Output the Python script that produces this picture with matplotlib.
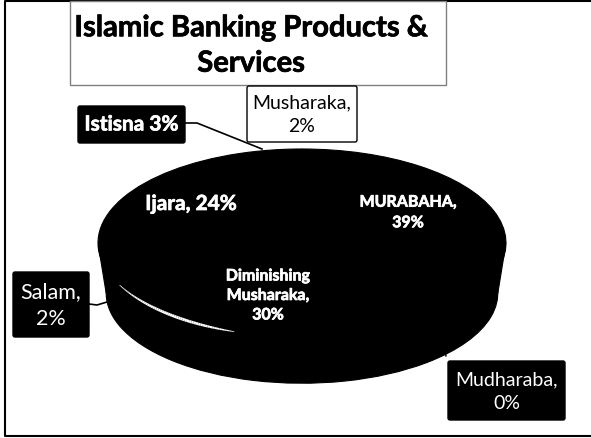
import numpy as np
import matplotlib
matplotlib.use('Agg')
import matplotlib.pyplot as plt
import matplotlib.patheffects as pe
from matplotlib.collections import LineCollection
from matplotlib.patches import FancyBboxPatch, Polygon, Rectangle

plt.rcParams['font.family'] = ['Lato', 'DejaVu Sans']

products = ['MURABAHA', 'Mudharaba', 'Diminishing Musharaka', 'Salam', 'Ijara', 'Istisna', 'Musharaka']
shares = [39, 0, 30, 2, 24, 3, 2]

W, H = 591, 439
PIE_LEFT, PIE_RIGHT = 98, 506
PIE_TOP, FACE_RY = 150, 94
SIDE_DROP = 50
SIDE_RADIUS = 0.96


def heavy(width=0.5, color='w'):
    return [pe.withStroke(linewidth=width, foreground=color)]


def add_box(ax, x0, y0, x1, y1, text, color='k', text_color='w', size=15, weight='normal', spacing=1.2, effects=None):
    box = FancyBboxPatch((x0 + 2, y0 + 2), x1 - x0 - 4, y1 - y0 - 4, boxstyle='round,pad=2,rounding_size=2',
                         fc=color, ec='k', lw=1.0, zorder=5)
    ax.add_patch(box)
    ax.text((x0 + x1) / 2, (y0 + y1) / 2, text, color=text_color, fontsize=size, fontweight=weight,
            ha='center', va='center', linespacing=spacing, zorder=6, path_effects=effects)


def draw_pie(fig):
    rx = (PIE_RIGHT - PIE_LEFT) / 2
    d = SIDE_DROP / FACE_RY
    bottom = PIE_TOP + FACE_RY + SIDE_DROP + SIDE_RADIUS * FACE_RY + 2
    ax = fig.add_axes([PIE_LEFT / W, 1 - bottom / H, 2 * rx / W, (bottom - PIE_TOP + 2) / H])
    colors = ['k'] * len(shares)
    wedge_style = {'edgecolor': 'k', 'linewidth': 0.8}
    # extruded side first, then the top face
    ax.pie(shares, startangle=90, counterclock=False, colors=colors, center=(0, -d), radius=SIDE_RADIUS,
           wedgeprops=wedge_style)
    ax.add_patch(Polygon([(-1, 0), (1, 0), (SIDE_RADIUS, -d), (-SIDE_RADIUS, -d)], fc='k', ec='k', lw=0.8))
    ax.pie(shares, startangle=90, counterclock=False, colors=colors, radius=1, wedgeprops=wedge_style)
    ax.set_aspect('auto')
    ax.set_xlim(-1, 1)
    ax.set_ylim(-(bottom - PIE_TOP - FACE_RY) / FACE_RY, 1 + 2 / FACE_RY)
    ax.axis('off')

    # tapered rim highlight on the front edge of the Diminishing Musharaka slice
    slice_end = 90 - 360 * sum(shares[:3]) / sum(shares) + 360
    t = np.radians(np.linspace(slice_end + 5, slice_end + 49, 60))
    pts = np.column_stack([np.cos(t), np.sin(t)])
    segments = np.stack([pts[:-1], pts[1:]], axis=1)
    ramp = np.linspace(0, 1, len(segments))
    widths = 0.5 + 1.6 * np.sin(np.pi * ramp ** 1.3) ** 0.8
    ax.add_collection(LineCollection(segments, colors='w', linewidths=widths, capstyle='butt', zorder=4))
    return ax


def main():
    fig = plt.figure(figsize=(W / 100, H / 100), dpi=100)
    draw_pie(fig)

    ax = fig.add_axes([0, 0, 1, 1], facecolor='none')
    ax.set_xlim(0, W)
    ax.set_ylim(H, 0)
    ax.axis('off')

    # slide frame
    ax.plot([W, 5, 5, W], [2, 2, 437, 437], color='k', lw=1.5, zorder=1)

    ax.add_patch(Rectangle((70, 2), 376, 84, fc='w', ec='#808080', lw=1, zorder=4))
    ax.text(251, 47, 'Islamic Banking Products &\nServices', fontsize=21, fontweight='bold',
            ha='center', va='center', linespacing=1.45, zorder=6, path_effects=heavy(0.5, 'k'))

    # leader lines
    ax.plot([185, 197, 262], [124, 124, 150], color='k', lw=1.2, zorder=3)
    ax.plot([89, 97, 107], [305, 306, 303], color='k', lw=1.2, zorder=3)
    ax.plot([445, 446], [350, 357], color='k', lw=1.0, zorder=3)

    add_box(ax, 78, 107, 185, 144, 'Istisna 3%', size=15, weight='bold', effects=heavy())
    add_box(ax, 247, 87, 357, 143, 'Musharaka,\n2%', color='w', text_color='k', size=14, spacing=1.45)
    add_box(ax, 13, 273, 89, 338, 'Salam,\n2%', size=15.5, spacing=1.45)
    add_box(ax, 448, 362, 565, 421, 'Mudharaba,\n0%', size=14, spacing=1.45)

    ax.text(191, 205, 'Ijara, 24%', color='w', fontsize=15, fontweight='bold', ha='center', va='center',
            zorder=6, path_effects=heavy())
    ax.text(408, 214, 'MURABAHA,\n39%', color='w', fontsize=11.5, fontweight='bold', ha='center', va='center',
            linespacing=1.6, zorder=6, path_effects=heavy())
    ax.text(268, 297, 'Diminishing\nMusharaka,\n30%', color='w', fontsize=11.5, fontweight='bold', ha='center',
            va='center', linespacing=1.5, zorder=6, path_effects=heavy())

    fig.savefig('out.png', dpi=100, facecolor='w')


if __name__ == "__main__":
    main()
